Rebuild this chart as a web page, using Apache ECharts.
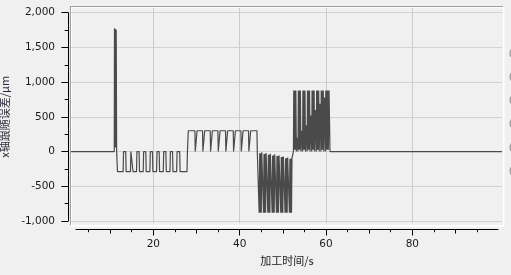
<!DOCTYPE html>
<html>
<head>
<meta charset="utf-8">
<script src="https://cdn.jsdelivr.net/npm/echarts@6.0.0/dist/echarts.min.js"></script>
<style>
html,body{margin:0;padding:0;background:#f0f0f0;}
#chart{width:511px;height:275px;}
</style>
</head>
<body>
<div id="chart"></div>
<script>
// ---- data: [time s, follow error μm] ----
const idleLead = [[0.93,0],[10.95,0]];
const spike = [[11.0,1775],[11.1,60],[11.2,1765],[11.3,60],[11.4,1755],[11.5,0],[11.65,0]];
const negSteps = [[11.7,-290],[13.0,-290],[13.1,0],[13.6,0],[13.7,-290],[14.7,-290],[14.8,0],[15.2,0],[15.3,-290],
  [16.1,-290],[16.2,0],[16.7,0],[16.8,-290],[17.65,-290],[17.75,0],[18.25,0],[18.35,-290],
  [19.2,-290],[19.3,0],[19.8,0],[19.9,-290],[20.75,-290],[20.85,0],[21.35,0],[21.45,-290],
  [22.3,-290],[22.4,0],[22.9,0],[23.0,-290],[23.85,-290],[23.95,0],[24.45,0],[24.55,-290],
  [25.4,-290],[25.5,0],[26.1,0],[26.2,-290],[27.8,-290],[27.9,0],[28.05,0]];
const posSteps = [[28.1,300],[29.63,300],[29.71,0],[30.05,0],[30.13,300],[31.40,300],[31.48,0],[31.82,0],[31.90,300],
  [33.18,300],[33.26,0],[33.60,0],[33.68,300],[34.96,300],[35.04,0],[35.38,0],[35.46,300],
  [36.72,300],[36.80,0],[37.14,0],[37.22,300],[38.51,300],[38.59,0],[38.93,0],[39.01,300],
  [40.29,300],[40.37,0],[40.71,0],[40.79,300],[42.05,300],[42.13,0],[42.47,0],[42.55,300],
  [44.0,300],[44.08,0],[44.35,-5]];
const negBursts = [
  [44.40,-5],[44.52,-880],[44.64,-25],[44.76,-880],[44.88,-25],[45.00,-880],[45.12,-10],
  [45.40,-10],[45.52,-880],[45.64,-35],[45.76,-880],[45.88,-35],[46.00,-880],[46.12,-20],
  [46.40,-20],[46.52,-880],[46.64,-45],[46.76,-880],[46.88,-45],[47.00,-880],[47.12,-30],
  [47.40,-30],[47.52,-880],[47.64,-55],[47.76,-880],[47.88,-55],[48.00,-880],[48.12,-40],
  [48.40,-40],[48.52,-880],[48.64,-65],[48.76,-880],[48.88,-65],[49.00,-880],[49.12,-55],
  [49.40,-55],[49.52,-880],[49.64,-80],[49.76,-880],[49.88,-80],[50.00,-880],[50.12,-70],
  [50.40,-70],[50.52,-880],[50.64,-95],[50.76,-880],[50.88,-95],[51.00,-880],[51.12,-85],
  [51.40,-85],[51.52,-880],[51.64,-105],[51.76,-880],[51.88,-105],[52.00,-880],[52.12,-95],
  [52.35,-90]];
const posBursts = [
  [52.45,0],[52.53,880],[52.65,25],[52.77,880],[52.89,25],[53.01,880],[53.13,0],[53.32,200],
  [53.51,0],[53.59,880],[53.71,25],[53.83,880],[53.95,25],[54.07,880],[54.19,0],[54.38,300],
  [54.57,0],[54.65,880],[54.77,25],[54.89,880],[55.01,25],[55.13,880],[55.25,0],[55.44,380],
  [55.63,0],[55.71,880],[55.83,25],[55.95,880],[56.07,25],[56.19,880],[56.31,0],[56.50,520],
  [56.69,0],[56.77,880],[56.89,25],[57.01,880],[57.13,25],[57.25,880],[57.37,0],[57.56,600],
  [57.75,0],[57.83,880],[57.95,25],[58.07,880],[58.19,25],[58.31,880],[58.43,0],[58.62,690],
  [58.81,0],[58.89,880],[59.01,25],[59.13,880],[59.25,25],[59.37,880],[59.49,0],[59.68,780],
  [59.87,0],[59.95,880],[60.07,25],[60.19,880],[60.31,25],[60.43,880],[60.55,25],[60.70,880],[60.93,0]];
const idleTail = [[61.0,0],[100.77,0]];

const yTicks = [-1000, -500, 0, 500, 1000, 1500, 2000];
const xLabelTicks = [20, 40, 60, 80];
const xMidTicks = [10, 30, 50, 70, 90];
const xMinorTicks = [5, 15, 25, 35, 45, 55, 65, 75, 85, 95];
const yName = 'x轴跟随误差/μm';
const xName = '加工时间/s';

const seriesData = [].concat(idleLead, spike, negSteps, posSteps, negBursts, posBursts, idleTail);

const numFont = 'DejaVu Sans';
const cjkFont = 'Noto Sans CJK SC';
const txt = '#1a1a1a';

const chart = echarts.init(document.getElementById('chart'), null, {renderer:'canvas'});
const axisGrid = {left:76, right:13, top:228.5, height:1, outerBoundsMode:'none'};
const hiddenY = (i) => ({type:'value', gridIndex:i, show:false, min:0, max:1});

chart.setOption({
  backgroundColor:'#f0f0f0',
  animation:false,
  grid:[
    {left:71, right:9, top:12.7, bottom:54, outerBoundsMode:'none'},
    {left:67, right:12.33, top:8, bottom:52, outerBoundsMode:'none'},
    Object.assign({}, axisGrid),
    Object.assign({}, axisGrid),
    Object.assign({}, axisGrid)
  ],
  xAxis:[
    {type:'value', gridIndex:0, min:0.927, max:100.77, show:false},
    {type:'value', gridIndex:1, min:0, max:100, interval:20,
      axisLine:{show:false}, axisTick:{show:false}, axisLabel:{show:false},
      splitLine:{show:true, showMinLine:false, showMaxLine:false, lineStyle:{color:'#cbcbcb', width:1}}},
    {type:'value', gridIndex:2, min:2.085, max:99.85,
      axisLine:{show:true, lineStyle:{color:'#000', width:1}},
      axisTick:{show:true, customValues:xLabelTicks, length:6, lineStyle:{color:'#000'}},
      axisLabel:{show:true, customValues:xLabelTicks, margin:9, fontSize:10.5, fontFamily:numFont, color:txt},
      splitLine:{show:false},
      name:xName, nameLocation:'middle', nameGap:26,
      nameTextStyle:{fontSize:11, fontFamily:cjkFont, color:txt}},
    {type:'value', gridIndex:3, min:2.085, max:99.85,
      axisLine:{show:false},
      axisTick:{show:true, customValues:xMidTicks, length:4, lineStyle:{color:'#000'}},
      axisLabel:{show:false}, splitLine:{show:false}},
    {type:'value', gridIndex:4, min:2.085, max:99.85,
      axisLine:{show:false},
      axisTick:{show:true, customValues:xMinorTicks, length:2.7, lineStyle:{color:'#000'}},
      axisLabel:{show:false}, splitLine:{show:false}}
  ],
  yAxis:[
    {type:'value', gridIndex:0, min:yTicks[0], max:yTicks[yTicks.length-1], interval:500, offset:3,
      axisLine:{show:true, lineStyle:{color:'#000', width:1}},
      axisTick:{show:true, length:6.6, lineStyle:{color:'#000'}},
      minorTick:{show:true, splitNumber:2, length:3.3, lineStyle:{color:'#000'}},
      axisLabel:{margin:13, fontSize:10.5, fontFamily:numFont, color:txt,
        formatter:(v)=>v.toLocaleString('en-US')},
      splitLine:{show:true, lineStyle:{color:'#d3d3d3', width:1}},
      minorSplitLine:{show:false},
      name:yName, nameLocation:'middle', nameGap:53,
      nameTextStyle:{fontSize:11, fontFamily:cjkFont, color:'#2a2a3a'}},
    hiddenY(1), hiddenY(2), hiddenY(3), hiddenY(4)
  ],
  series:[{
    type:'line', xAxisIndex:0, yAxisIndex:0, data:seriesData,
    showSymbol:false, symbol:'none', sampling:null, smooth:false,
    lineStyle:{color:'#4a4a4a', width:1.2},
    clip:true, z:3
  }],
  graphic:[
    {type:'polyline', z:-1, shape:{points:[[70.5,225.5],[70.5,6.5],[503,6.5]]}, style:{stroke:'#a0a0a0', lineWidth:1.2, fill:null}},
    {type:'polyline', z:-1, shape:{points:[[71.5,225],[71.5,7.7],[502.5,7.7]]}, style:{stroke:'#ffffff', lineWidth:1, fill:null}},
    {type:'polyline', z:-1, shape:{points:[[70.5,226],[503.7,226],[503.7,6.5]]}, style:{stroke:'#ffffff', lineWidth:1.6, fill:null}},
    {type:'circle', shape:{cx:515.5, cy:53.3, r:5.5}, style:{stroke:'#9c9c9c', lineWidth:1.3, fill:'#ececec'}},
    {type:'circle', shape:{cx:515.5, cy:76.7, r:5.5}, style:{stroke:'#9c9c9c', lineWidth:1.3, fill:'#ececec'}},
    {type:'circle', shape:{cx:515.5, cy:100, r:5.5}, style:{stroke:'#9c9c9c', lineWidth:1.3, fill:'#ececec'}},
    {type:'circle', shape:{cx:515.5, cy:123.3, r:5.5}, style:{stroke:'#9c9c9c', lineWidth:1.3, fill:'#ececec'}},
    {type:'circle', shape:{cx:515.5, cy:147.3, r:5.5}, style:{stroke:'#9c9c9c', lineWidth:1.3, fill:'#ececec'}},
    {type:'circle', shape:{cx:515.5, cy:171, r:5.5}, style:{stroke:'#9c9c9c', lineWidth:1.3, fill:'#ececec'}}
  ]
});
</script>
</body>
</html>
